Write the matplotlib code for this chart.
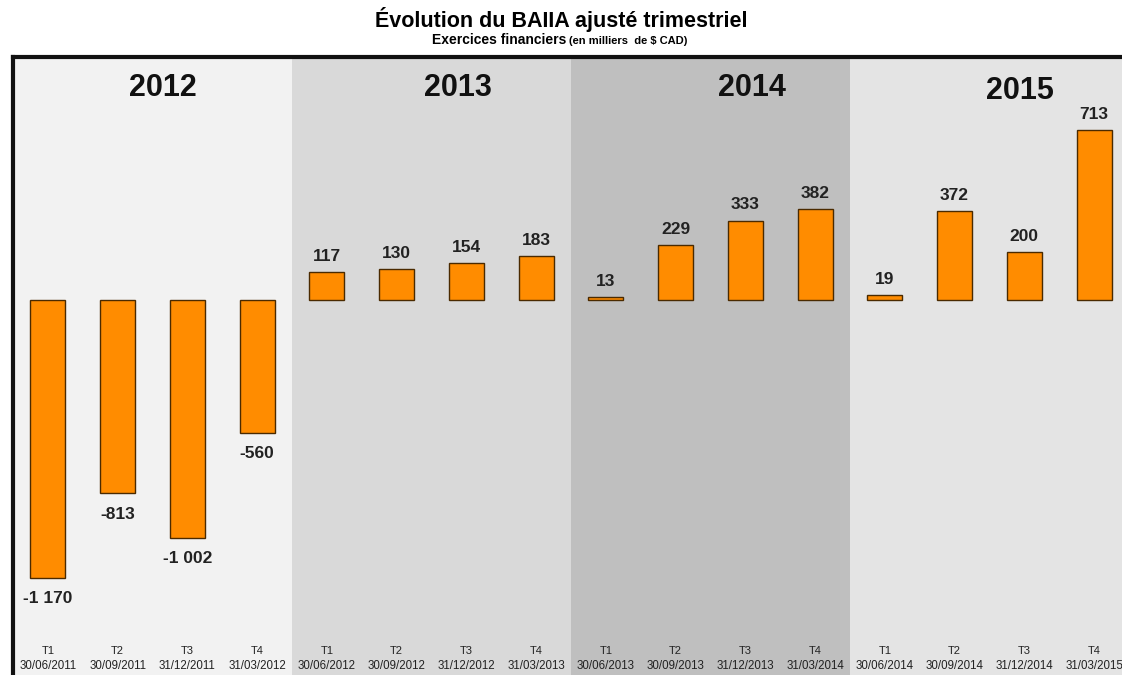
import matplotlib.pyplot as plt

plt.rcParams['font.family'] = ['Liberation Sans', 'DejaVu Sans']

years = ['2012', '2013', '2014', '2015']
quarters = ['T1', 'T2', 'T3', 'T4'] * 4
dates = ['30/06/2011', '30/09/2011', '31/12/2011', '31/03/2012',
         '30/06/2012', '30/09/2012', '31/12/2012', '31/03/2013',
         '30/06/2013', '30/09/2013', '31/12/2013', '31/03/2014',
         '30/06/2014', '30/09/2014', '31/12/2014', '31/03/2015']
values = [-1170, -813, -1002, -560,
          117, 130, 154, 183,
          13, 229, 333, 382,
          19, 372, 200, 713]
labels = ['-1 170', '-813', '-1 002', '-560',
          '117', '130', '154', '183',
          '13', '229', '333', '382',
          '19', '372', '200', '713']

band_colors = ['#f2f2f2', '#d9d9d9', '#bfbfbf', '#e4e4e4']
year_dx = [0.15, 0.38, 0.6, 0.44]
year_dy = [0, 0, 0, -12]

fig = plt.figure(figsize=(11.22, 6.75), dpi=100)
W, H = 1122, 675
# axes spans beyond the right edge, as in the reference
ax = fig.add_axes([13 / W, 0 / H, 1116 / W, (675 - 57) / H])
ax.set_xlim(-0.5, 15.5)
ax.set_ylim(-1576, 1021)

for i, c in enumerate(band_colors):
    ax.axvspan(4 * i - 0.5, 4 * i + 3.5, color=c, zorder=0, lw=0)
    ax.text(4 * i + 1.5 + year_dx[i], 890 + year_dy[i], years[i], ha='center',
            va='center', fontsize=22, fontweight='bold', color='#111111')

x = list(range(len(values)))
ax.bar(x, values, width=0.5, color='#ff8c00', edgecolor='#4a2a00',
       linewidth=1.0, zorder=2)

for xi, v, lab in zip(x, values, labels):
    if v < 0:
        ax.text(xi, v - 55, lab, ha='center', va='top', fontsize=12.5,
                fontweight='bold', color='#222222')
    else:
        ax.text(xi, v + 35, lab, ha='center', va='bottom', fontsize=12.5,
                fontweight='bold', color='#222222')

for xi, q, d in zip(x, quarters, dates):
    ax.text(xi, -1475, q, ha='center', va='center', fontsize=8, color='#222222')
    ax.text(xi, -1540, d, ha='center', va='center', fontsize=8.3, color='#222222')

ax.set_xticks([])
ax.set_yticks([])
for s in ['right', 'bottom']:
    ax.spines[s].set_visible(False)
for s in ['top', 'left']:
    ax.spines[s].set_linewidth(3)
    ax.spines[s].set_color('#111111')

fig.text(0.5, 1 - 20 / H, 'Évolution du BAIIA ajusté trimestriel', ha='center',
         va='center', fontsize=15.5, fontweight='bold')
fig.text(0.505, 1 - 40 / H, 'Exercices financiers', ha='right', va='center',
         fontsize=10, fontweight='bold')
fig.text(0.507, 1 - 41 / H, '(en milliers  de $ CAD)', ha='left', va='center',
         fontsize=8, fontweight='bold')

fig.savefig('out.png', dpi=100)
